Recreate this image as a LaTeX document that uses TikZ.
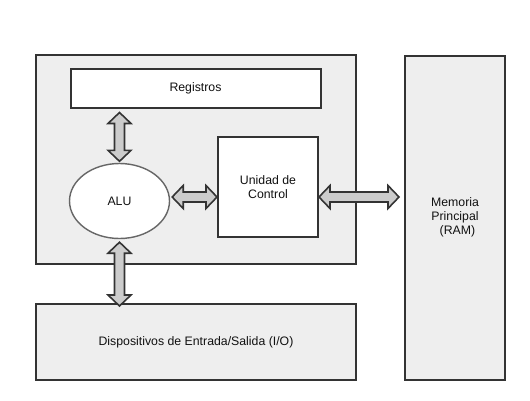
\documentclass[tikz,border=0pt]{standalone}
\usepackage{fontspec}
\setmainfont{Liberation Sans}
\usetikzlibrary{calc,shapes.geometric}
\definecolor{edge}{HTML}{333333}
\definecolor{panel}{HTML}{EEEEEE}
\definecolor{shaft}{HTML}{CCCCCC}
\definecolor{ring}{HTML}{666666}
\definecolor{ink}{HTML}{111111}
\newcommand\harrowblk[2]{\draw[blockarrow] let \p1=(#1),\p2=(#2) in
  (\x1,\y1) -- (\x1+11pt,\y1+11.5pt) -- (\x1+11pt,\y1+5pt) -- (\x2-11pt,\y1+5pt) -- (\x2-11pt,\y1+11.5pt)
  -- (\x2,\y1) -- (\x2-11pt,\y1-11.5pt) -- (\x2-11pt,\y1-5pt) -- (\x1+11pt,\y1-5pt) -- (\x1+11pt,\y1-11.5pt) -- cycle;}
\newcommand\varrowblk[2]{\draw[blockarrow] let \p1=(#1),\p2=(#2) in
  (\x1,\y1) -- (\x1+11.5pt,\y1-11pt) -- (\x1+5pt,\y1-11pt) -- (\x1+5pt,\y2+11pt) -- (\x1+11.5pt,\y2+11pt)
  -- (\x1,\y2) -- (\x1-11.5pt,\y2+11pt) -- (\x1-5pt,\y2+11pt) -- (\x1-5pt,\y1-11pt) -- (\x1-11.5pt,\y1-11pt) -- cycle;}
\begin{document}
\begin{tikzpicture}[x=1pt,y=-1pt,
  every node/.style={font=\fontsize{12.3}{14}\selectfont, text=ink, align=center, inner sep=0pt},
  panelbox/.style={draw=edge, line width=2pt, fill=panel},
  whitebox/.style={draw=edge, line width=2pt, fill=white},
  blockarrow/.style={draw=edge, line width=1.6pt, fill=shaft, line join=miter}]
\useasboundingbox (0,0) rectangle (530,400);
\node[panelbox, minimum width=320pt, minimum height=209pt] (cpu) at (196,159.5) {};
\node[panelbox, minimum width=100pt, minimum height=324pt] (ram) at (455,217.5) {Memoria\\Principal\\\hspace{5pt}(RAM)};
\node[panelbox, minimum width=320pt, minimum height=76pt] (io) at (196,342) {Dispositivos de Entrada/Salida (I/O)};
\node[whitebox, minimum width=250pt, minimum height=39pt] (reg) at (195.5,88.5) {Registros};
\node[whitebox, minimum width=100pt, minimum height=100pt] (uc) at (268,187) {Unidad de\\Control};
\node[draw=ring, line width=1.4pt, fill=white, ellipse, minimum width=100pt, minimum height=75pt] (alu) at (119.5,201) {ALU};
\coordinate (lev) at (0,197);
\coordinate (t1) at ($(alu.north |- reg.south)+(0,3.5)$);
\coordinate (t2) at ($(alu.north)+(0,-1.5)$);
\coordinate (b1) at ($(alu.south)+(0,3)$);
\coordinate (b2) at ($(alu.south |- io.north)+(0,3)$);
\coordinate (l1) at ($(alu.east |- lev)+(2,0)$);
\coordinate (l2) at (uc.west |- lev);
\coordinate (r1) at (uc.east |- lev);
\coordinate (r2) at ($(ram.west |- lev)+(-5,0)$);
\varrowblk{t1}{t2}
\varrowblk{b1}{b2}
\harrowblk{l1}{l2}
\harrowblk{r1}{r2}
\end{tikzpicture}
\end{document}
